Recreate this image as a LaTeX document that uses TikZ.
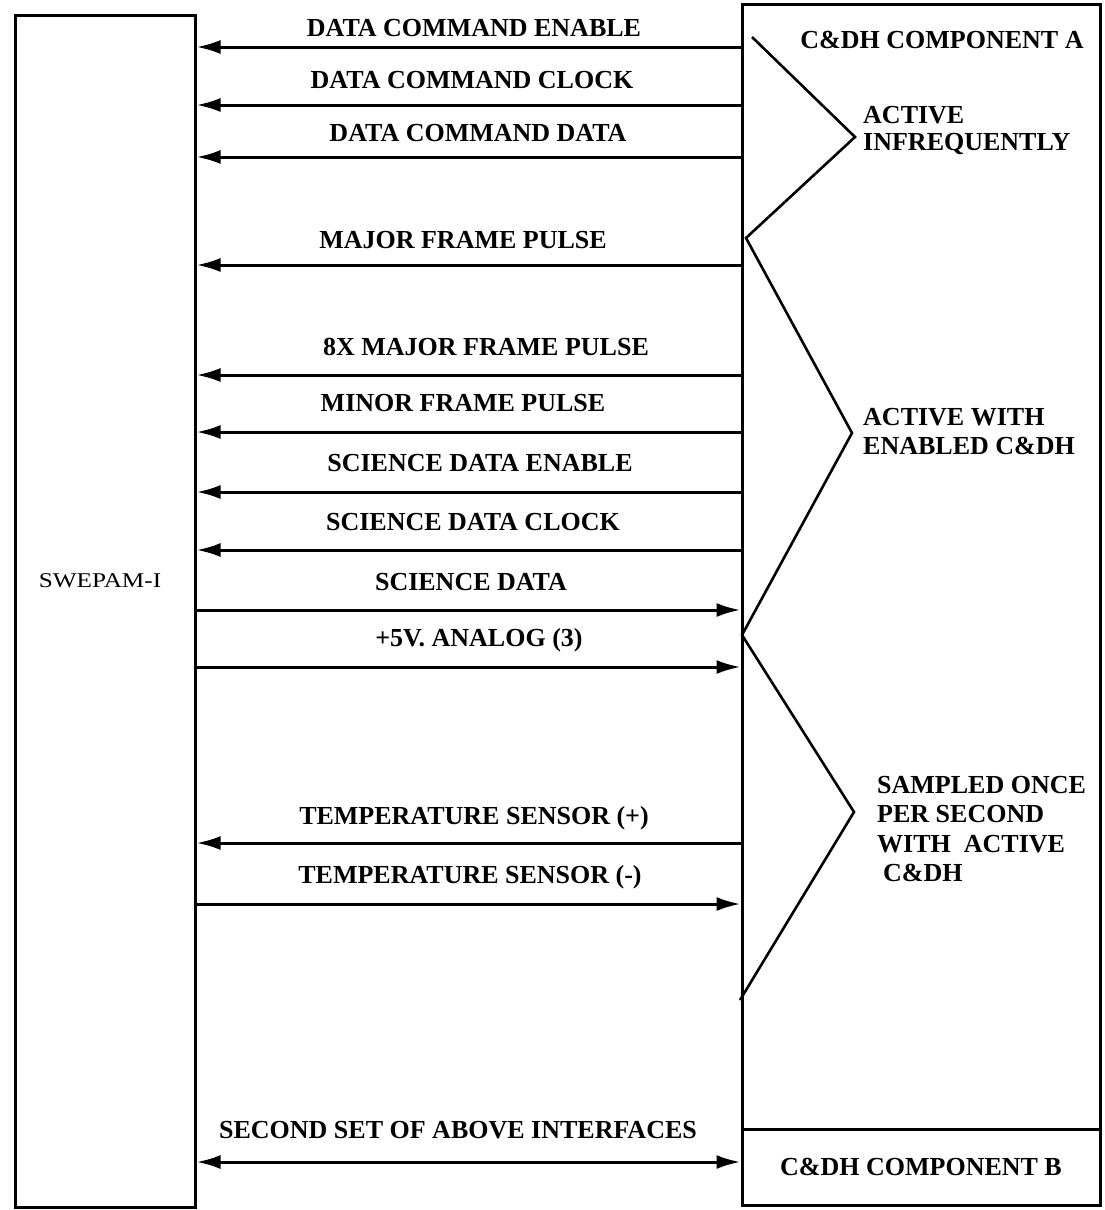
\documentclass[tikz,border=0pt]{standalone}
\usepackage{fontspec}
\setmainfont{Liberation Serif}
\usetikzlibrary{arrows.meta}
\tikzset{
  box/.style={draw, line width=3pt, rectangle, inner sep=0pt},
  sig/.style={line width=3pt, -{Latex[length=24pt,width=14pt]}},
  dsig/.style={line width=3pt, {Latex[length=24pt,width=14pt]}-{Latex[length=24pt,width=14pt]}},
  zig/.style={line width=2.6pt, line join=miter},
  lbl/.style={font=\bfseries\fontsize{26}{29}\selectfont, inner sep=0pt, anchor=base},
  note/.style={lbl, anchor=base west},
}
\begin{document}
\begin{tikzpicture}[x=1pt,y=-1pt]
\useasboundingbox (0,0) rectangle (1104,1210);
% boxes
\node[box, minimum width=180pt, minimum height=1192pt] (swepam) at (105,611) {};
\node[box, minimum width=358pt, minimum height=1125pt] (cdhA) at (921,566.5) {};
\node[box, minimum width=358pt, minimum height=76pt, font=\bfseries\fontsize{26}{29}\selectfont] (cdhB) at (921,1167) {C\&DH COMPONENT B};
\node[inner sep=0pt, anchor=base, font=\fontsize{21}{25}\selectfont] (swepamlbl) at (100,587) {\scalebox{1.2}[1]{SWEPAM-I}};
\node[lbl] (cdhAlbl) at (942,48.6) {C\&DH COMPONENT A};
% connector end points
\foreach \y [count=\i] in {47,105,157,265,375,432,492,550,610,667,843,904,1162}{
  \coordinate (a\i) at (swepam.east |- 0,\y);
  \coordinate (b\i) at (cdhA.west |- 0,\y);
}
% connectors
\draw[sig] (b1) -- (a1);
\draw[sig] (b2) -- (a2);
\draw[sig] (b3) -- (a3);
\draw[sig] (b4) -- (a4);
\draw[sig] (b5) -- (a5);
\draw[sig] (b6) -- (a6);
\draw[sig] (b7) -- (a7);
\draw[sig] (b8) -- (a8);
\draw[sig] (a9) -- (b9);
\draw[sig] (a10) -- (b10);
\draw[sig] (b11) -- (a11);
\draw[sig] (a12) -- (b12);
\draw[dsig] (a13) -- (b13);
% signal labels
\node[lbl] (l1) at (474,36.6) {DATA COMMAND ENABLE};
\node[lbl] (l2) at (472,88.6) {DATA COMMAND CLOCK};
\node[lbl] (l3) at (478,141.6) {DATA COMMAND DATA};
\node[lbl] (l4) at (463,248.6) {MAJOR FRAME PULSE};
\node[lbl] (l5) at (486,355.6) {8X MAJOR FRAME PULSE};
\node[lbl] (l6) at (463,411.6) {MINOR FRAME PULSE};
\node[lbl] (l7) at (480,471.6) {SCIENCE DATA ENABLE};
\node[lbl] (l8) at (473,530.6) {SCIENCE DATA CLOCK};
\node[lbl] (l9) at (471,590.6) {SCIENCE DATA};
\node[lbl] (l10) at (479,646.6) {+5V. ANALOG (3)};
\node[lbl] (l11) at (474,824.6) {TEMPERATURE SENSOR (+)};
\node[lbl] (l12) at (470,883.6) {TEMPERATURE SENSOR (-)};
\node[lbl] (l13) at (458,1138.6) {SECOND SET OF ABOVE INTERFACES};
% grouping zig-zag
\draw[zig] (752,37) -- (855,137) -- (746,238) -- (852,433) -- (742,635) -- (854,812) -- (740,1000);
% group notes
\node[note] (n1) at (863,123.6) {ACTIVE};
\node[note] (n2) at (863,150.6) {INFREQUENTLY};
\node[note] (n3) at (863,425.6) {ACTIVE WITH};
\node[note] (n4) at (863,454.6) {ENABLED C\&DH};
\node[note] (n5) at (877,793.6) {SAMPLED ONCE};
\node[note] (n6) at (877,822.6) {PER SECOND};
\node[note] (n7) at (877,852.6) {WITH\ \ ACTIVE};
\node[note] (n8) at (883,881.6) {C\&DH};
\end{tikzpicture}
\end{document}
